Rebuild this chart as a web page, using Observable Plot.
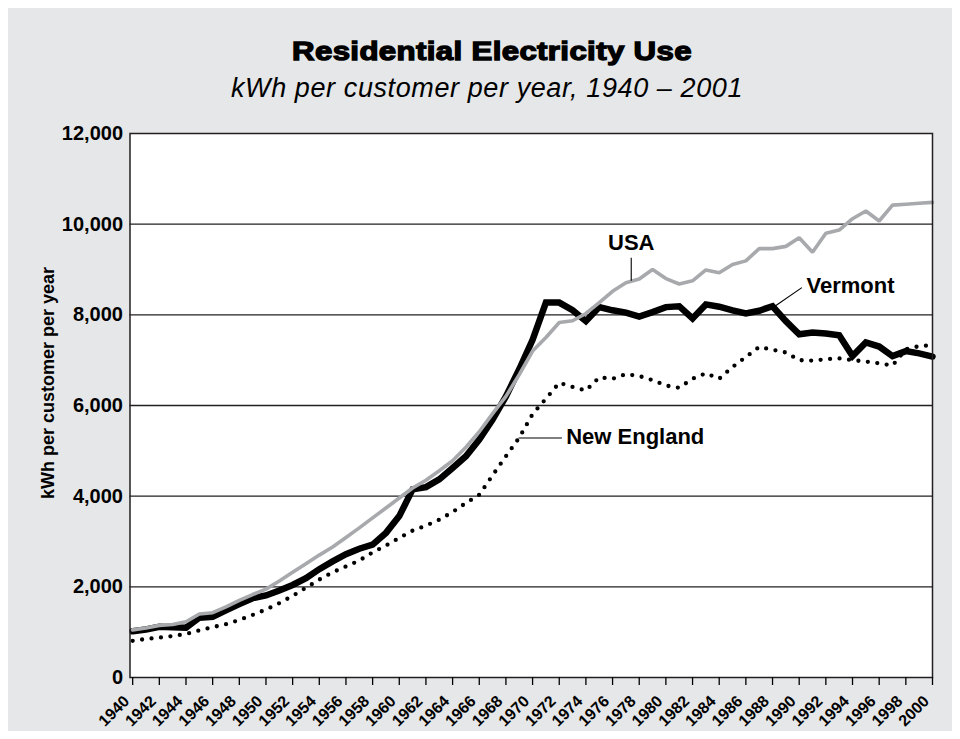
<!DOCTYPE html>
<html>
<head>
<meta charset="utf-8">
<script src="https://cdn.jsdelivr.net/npm/d3@7"></script>
<script src="https://cdn.jsdelivr.net/npm/@observablehq/plot@0.6"></script>
<style>
html, body { margin: 0; padding: 0; background: #ffffff; }
#wrap { position: relative; width: 960px; height: 739px; font-family: "Liberation Sans", Arial, Helvetica, sans-serif; overflow: hidden; }
#panel { position: absolute; left: 8px; top: 8px; width: 944px; height: 723px; background: #e6e7e8; }
#chart { position: absolute; left: 0; top: 0; }
#title { position: absolute; left: 492px; top: 38px; transform: translateX(-50%) scaleX(1.2); white-space: nowrap;
  font-size: 26px; line-height: 26px; font-weight: bold; letter-spacing: 0.3px; -webkit-text-stroke: 1.3px #000; color: #000; }
#subtitle { position: absolute; left: 487px; top: 75px; transform: translateX(-50%); white-space: nowrap;
  font-size: 27px; line-height: 27px; font-style: italic; letter-spacing: 0.6px; color: #000; }
</style>
</head>
<body>
<div id="wrap">
  <div id="panel"></div>
  <div id="chart"></div>
  <div id="title">Residential Electricity Use</div>
  <div id="subtitle">kWh per customer per year, 1940 – 2001</div>
</div>
<script>
const years = d3.range(1940, 2001);

const usa = [
  1050, 1090, 1150, 1170, 1230, 1400, 1430, 1560, 1700, 1830,
  1950, 2130, 2320, 2510, 2700, 2880, 3090, 3300, 3520, 3740,
  3960, 4180, 4350, 4560, 4780, 5080, 5420, 5820, 6200, 6680,
  7200, 7500, 7830, 7870, 8030, 8270, 8520, 8710, 8790, 9000,
  8800, 8680, 8750, 8990, 8930, 9110, 9190, 9460, 9460, 9510,
  9700, 9380, 9800, 9870, 10120, 10290, 10070, 10420, 10440, 10460,
  10480
];

const vermont = [
  1020, 1060, 1120, 1110, 1100, 1320, 1340, 1480, 1620, 1750,
  1810, 1920, 2040, 2190, 2390, 2560, 2720, 2840, 2930, 3190,
  3560, 4150, 4200, 4370, 4620, 4880, 5250, 5690, 6200, 6800,
  7450, 8270, 8270, 8100, 7860, 8170, 8100, 8050, 7960, 8060,
  8170, 8190, 7920, 8230, 8180, 8100, 8030, 8090, 8190, 7860,
  7570, 7610, 7590, 7550, 7090, 7390, 7300, 7090, 7200, 7150,
  7080
];

const newEngland = [
  810, 850, 880, 915, 960, 1040, 1110, 1175, 1270, 1380,
  1500, 1640, 1800, 1980, 2160, 2320, 2450, 2580, 2760, 2910,
  3080, 3240, 3350, 3480, 3650, 3850, 4030, 4460, 4880, 5290,
  5810, 6150, 6500, 6410, 6330, 6620, 6590, 6690, 6650, 6560,
  6440, 6390, 6590, 6710, 6590, 6850, 7070, 7290, 7230, 7170,
  7000, 6990, 7020, 7040, 7000, 6970, 6930, 6880, 7240, 7310,
  7330
];

const yTicks = [0, 2000, 4000, 6000, 8000, 10000, 12000];
const gridValues = [2000, 4000, 6000, 8000, 10000];
const xTicks = d3.range(1940, 2001, 2);
const yLabel = "kWh per customer per year";

const labelNames = ["USA", "Vermont", "New England"];
const labelYears = [1977.4, 1993.85, 1977.7];
const labelValues = [9590, 8645, 5300];
const leaderYears1 = [1977.4, 1990.2, 1968.95];
const leaderValues1 = [9260, 8600, 5282];
const leaderYears2 = [1977.4, 1988.2, 1972.2];
const leaderValues2 = [8750, 8195, 5282];

const chart = Plot.plot({
  width: 960,
  height: 739,
  marginLeft: 129.5,
  marginRight: 28,
  marginTop: 133,
  marginBottom: 62,
  style: { fontFamily: "'Liberation Sans', Arial, Helvetica, sans-serif", background: "transparent", color: "#000", overflow: "visible" },
  x: { domain: [1939.8, 2000] },
  y: { domain: [0, 12000] },
  marks: [
    Plot.frame({ fill: "white", stroke: null }),
    Plot.ruleY(gridValues, { stroke: "#231f20", strokeWidth: 1.4 }),
    Plot.line(years, { x: years, y: vermont, stroke: "#000", strokeWidth: 6.5, strokeLinejoin: "miter", strokeMiterlimit: 4 }),
    Plot.line(years, { x: years, y: usa, stroke: "#a7a9ac", strokeWidth: 3.6, strokeLinejoin: "miter" }),
    Plot.line(years, { x: years, y: newEngland, stroke: "#000", strokeWidth: 4.3, strokeDasharray: "0 9.5", strokeLinecap: "round" }),
    Plot.link(labelNames, { x1: leaderYears1, y1: leaderValues1, x2: leaderYears2, y2: leaderValues2, stroke: "#000", strokeWidth: 1.1 }),
    Plot.text(labelNames, { x: labelYears, y: labelValues, text: d => d, textAnchor: "middle", fontSize: 22, fontWeight: "bold", fill: "#000" }),
    Plot.frame({ stroke: "#231f20", strokeWidth: 1.5 }),
    Plot.axisX({ ticks: xTicks, tickFormat: d => String(d), tickSize: 8, text: null, label: null, strokeWidth: 1.3 }),
    Plot.axisX({ ticks: xTicks, tickFormat: d => String(d), tickSize: 0, tickRotate: -45, tickPadding: 21, dx: -6, fontSize: 16, fontWeight: "bold", label: null }),
    Plot.axisY({ ticks: yTicks, tickFormat: d3.format(","), tickSize: 0, tickPadding: 7, fontSize: 20, fontWeight: "bold", label: null }),
    Plot.text([yLabel], { text: d => d, frameAnchor: "left", textAnchor: "middle", dx: -82, dy: -22.5, rotate: -90, fontSize: 18, fontWeight: "bold", fill: "#000" })
  ]
});
document.getElementById("chart").appendChild(chart);
</script>
</body>
</html>
